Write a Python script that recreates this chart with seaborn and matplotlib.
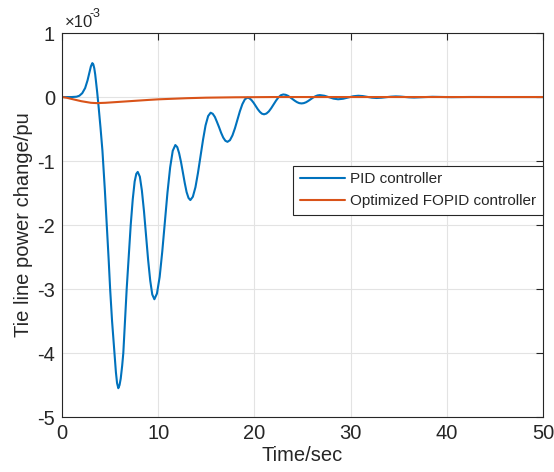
import matplotlib
matplotlib.use("Agg")
import matplotlib.pyplot as plt
import seaborn as sns
import pandas as pd

# values, y in units of 1e-3 pu
pid_t = [0, 1.0, 1.5, 1.8, 2.1, 2.4, 2.65, 2.85, 3.0, 3.15, 3.25, 3.35, 3.45, 3.55, 3.65,
         3.8, 4.0, 4.2, 4.45, 4.65, 4.85, 5.0, 5.2, 5.45, 5.6, 5.72, 5.85, 5.98, 6.1, 6.25,
         6.37, 6.55, 6.72, 6.93, 7.14, 7.35, 7.55, 7.72, 7.87,
         8.09, 8.3, 8.52, 8.73, 8.95, 9.17, 9.38, 9.6,
         9.87, 10.15, 10.42, 10.69, 10.96, 11.24, 11.51, 11.78,
         11.98, 12.17, 12.37, 12.56, 12.76, 12.95, 13.15, 13.34,
         13.6, 13.87, 14.13, 14.4, 14.66, 14.92, 15.19, 15.45,
         15.67, 15.89, 16.1, 16.33, 16.54, 16.76, 16.98, 17.2,
         17.46, 17.72, 17.98, 18.24, 18.49, 18.75, 19.01, 19.27,
         19.49, 19.7, 19.92, 20.14, 20.35, 20.57, 20.78, 21.0,
         21.25, 21.5, 21.75, 22.0, 22.25, 22.5, 22.75, 23.0,
         23.24, 23.48, 23.71, 23.95, 24.19, 24.43, 24.66, 24.9,
         25.14, 25.38, 25.61, 25.85, 26.09, 26.33, 26.56, 26.8,
         27.28, 27.75, 28.23, 28.7, 29.22, 29.75, 30.27, 30.8,
         31.27, 31.75, 32.22, 32.7, 33.2, 33.7, 34.2, 34.7,
         35.2, 35.65, 36.1, 36.6, 37.55, 38.5, 39.5, 40.5, 41.5, 42.5, 45.0, 50.0]
pid_y = [0, 0, 0.005, 0.02, 0.06, 0.14, 0.26, 0.39, 0.48, 0.53, 0.51, 0.45, 0.35, 0.22, 0.08,
         -0.15, -0.48, -0.84, -1.45, -2.0, -2.55, -3.0, -3.5, -4.0, -4.3, -4.47, -4.55, -4.5,
         -4.4, -4.2, -4.0, -3.5, -3.0, -2.5, -2.0, -1.6, -1.32, -1.2, -1.17,
         -1.245, -1.46, -1.785, -2.165, -2.545, -2.87, -3.085, -3.16,
         -3.07, -2.81, -2.415, -1.955, -1.495, -1.10, -0.84, -0.75,
         -0.783, -0.876, -1.016, -1.18, -1.344, -1.485, -1.577, -1.61,
         -1.558, -1.41, -1.188, -0.928, -0.667, -0.444, -0.297, -0.245,
         -0.262, -0.311, -0.386, -0.473, -0.559, -0.634, -0.683, -0.70,
         -0.674, -0.599, -0.487, -0.355, -0.223, -0.111, -0.036, -0.01,
         -0.02, -0.048, -0.09, -0.14, -0.19, -0.232, -0.26, -0.27,
         -0.258, -0.225, -0.174, -0.115, -0.056, -0.005, 0.028, 0.04,
         0.035, 0.02, -0.003, -0.03, -0.057, -0.08, -0.095, -0.10,
         -0.095, -0.081, -0.06, -0.035, -0.01, 0.011, 0.025, 0.03,
         0.02, -0.003, -0.025, -0.035, -0.027, -0.008, 0.012, 0.02,
         0.015, 0.003, -0.01, -0.015, -0.011, -0.003, 0.006, 0.01,
         0.007, 0.001, -0.005, -0.008, -0.002, 0.004, 0.001, -0.002, 0.0, 0.001, 0.0, 0.0]

fopid_t = [0, 0.5, 1, 2, 3, 3.6, 4.5, 5, 7, 9, 10, 11, 13, 15, 18, 22, 30, 40, 50]
fopid_y = [0, -0.012, -0.03, -0.065, -0.09, -0.095, -0.09, -0.085, -0.065, -0.045, -0.036,
           -0.03, -0.018, -0.01, -0.004, 0, 0, 0, 0]

labels = ["PID controller", "Optimized FOPID controller"]
colors = ["#0072BD", "#D95319"]

df = pd.concat([
    pd.DataFrame({"t": pid_t, "y": pid_y, "ctrl": labels[0]}),
    pd.DataFrame({"t": fopid_t, "y": fopid_y, "ctrl": labels[1]}),
])

sns.set_style("whitegrid")
plt.rcParams["font.family"] = ["Liberation Sans", "DejaVu Sans"]
plt.rcParams["axes.unicode_minus"] = False

fig = plt.figure(figsize=(5.54, 4.72), dpi=100)
ax = fig.add_axes([0.112, 0.1165, 0.868, 0.8135])

sns.lineplot(data=df, x="t", y="y", hue="ctrl", palette=colors, hue_order=labels,
             linewidth=1.5, ax=ax, sort=False, estimator=None)

ax.set_xlim(0, 50)
ax.set_ylim(-5, 1)
ax.set_xticks(range(0, 51, 10))
ax.set_yticks(range(-5, 2))
ax.grid(True, color="#e3e3e3", linewidth=0.8)
for s in ax.spines.values():
    s.set_color("#262626")
    s.set_linewidth(0.8)
ax.tick_params(direction="in", length=5, width=0.8, color="#262626",
               top=True, right=True, labelsize=14.5, labelcolor="#262626", pad=5)
ax.set_xlabel("Time/sec", fontsize=14.5, color="#262626", labelpad=2)
ax.set_ylabel("Tie line power change/pu", fontsize=14.5, color="#262626", labelpad=3)

# MATLAB style exponent label
ax.text(0.005, 1.008, "\u00d710", transform=ax.transAxes, fontsize=12,
        color="#262626", ha="left", va="bottom")
ax.text(0.058, 1.035, "-3", transform=ax.transAxes, fontsize=9,
        color="#262626", ha="left", va="bottom")

leg = ax.legend(loc="upper right", bbox_to_anchor=(1.0, 0.655), fontsize=11,
                frameon=True, fancybox=False, framealpha=1, edgecolor="#262626",
                handlelength=3.0, handletextpad=0.3, borderpad=0.45, labelspacing=0.5,
                borderaxespad=0)
leg.get_frame().set_linewidth(0.8)

fig.savefig("out.png", dpi=100, facecolor="white")
